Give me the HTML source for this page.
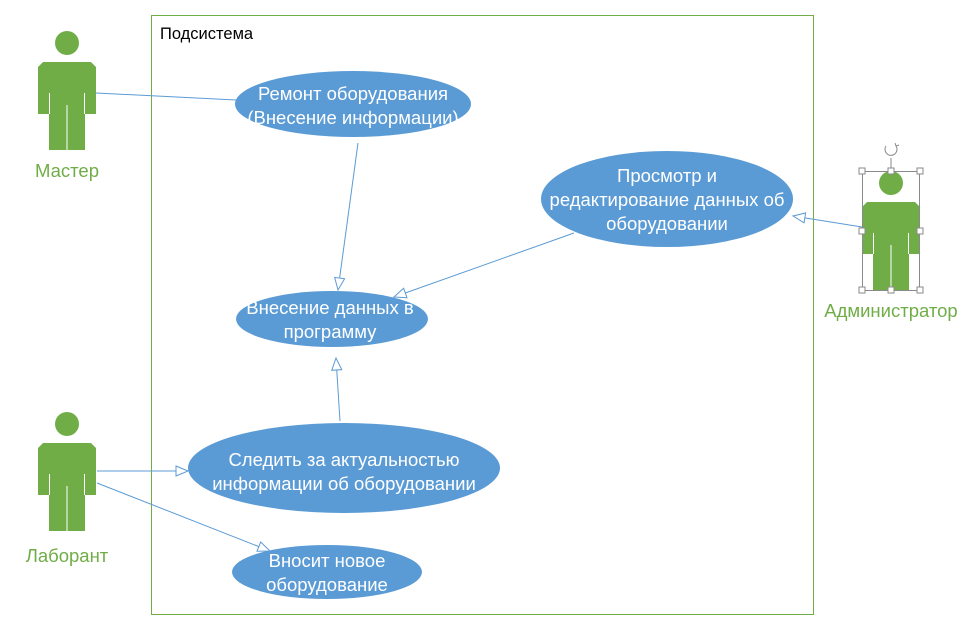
<!DOCTYPE html>
<html><head><meta charset="utf-8"><style>
html,body{margin:0;padding:0;background:#fff;}
svg{display:block;font-family:"Liberation Sans",sans-serif;}
.uc{fill:#5b9bd5;}
.t{fill:#fff;font-size:18.5px;text-anchor:middle;}
.a{fill:#70ad47;font-size:18.5px;text-anchor:middle;}
.l{stroke:#5b9bd5;stroke-width:1;fill:none;}
</style></head><body>
<svg width="964" height="625" viewBox="0 0 964 625">
<defs>
<marker id="ar" viewBox="0 0 14 12" refX="13" refY="6" markerWidth="14" markerHeight="12" markerUnits="userSpaceOnUse" orient="auto">
<path d="M1,1 L13,6 L1,11 Z" fill="#fff" stroke="#5b9bd5" stroke-width="1"/>
</marker>
<g id="act">
<circle cx="0" cy="0" r="12" fill="#70ad47"/>
<polygon points="-24,19 24,19 29,24 29,71 18,71 18,107 -18,107 -18,71 -29,71 -29,24" fill="#70ad47"/>
<line x1="-17.5" y1="50" x2="-17.5" y2="71" stroke="#fff" stroke-width="1"/>
<line x1="17.5" y1="50" x2="17.5" y2="71" stroke="#fff" stroke-width="1"/>
<line x1="0" y1="62" x2="0" y2="107" stroke="#fff" stroke-width="1"/>
</g>
</defs>
<rect x="151.5" y="15.5" width="662" height="599" fill="none" stroke="#70ad47" stroke-width="1"/>
<text x="160" y="39" font-size="16.5" fill="#000">Подсистема</text>

<use href="#act" x="67" y="43"/>
<text class="a" x="67" y="177">Мастер</text>
<use href="#act" x="67" y="424"/>
<text class="a" x="67" y="562">Лаборант</text>
<use href="#act" x="891" y="183"/>
<text class="a" x="891" y="317">Администратор</text>
<g stroke="#8a8a8a" fill="none" stroke-width="1">
<rect x="862.5" y="171.5" width="57" height="119"/>
<line x1="891" y1="158" x2="891" y2="171"/>
<path d="M886,146 A6,6 0 1 0 896,146"/>
<path d="M896,146 l3,-1 M896,146 l-1,-3"/>
</g>
<g fill="#fff" stroke="#8a8a8a" stroke-width="1">
<rect x="859" y="168" width="6" height="6"/><rect x="888" y="168" width="6" height="6"/><rect x="917" y="168" width="6" height="6"/>
<rect x="859" y="228" width="6" height="6"/><rect x="917" y="228" width="6" height="6"/>
<rect x="859" y="287" width="6" height="6"/><rect x="888" y="287" width="6" height="6"/><rect x="917" y="287" width="6" height="6"/>
</g>

<ellipse class="uc" cx="353" cy="104" rx="118" ry="33"/>
<text class="t" x="353" y="100">Ремонт оборудования</text>
<text class="t" x="353" y="124">(Внесение информации)</text>

<ellipse class="uc" cx="667" cy="199" rx="126" ry="48"/>
<text class="t" x="667" y="182">Просмотр и</text>
<text class="t" x="667" y="206">редактирование данных об</text>
<text class="t" x="667" y="230">оборудовании</text>

<ellipse class="uc" cx="332" cy="319" rx="96" ry="28"/>
<text class="t" x="330" y="314">Внесение данных в</text>
<text class="t" x="330" y="338">программу</text>

<ellipse class="uc" cx="344" cy="468" rx="156" ry="45"/>
<text class="t" x="344" y="466">Следить за актуальностью</text>
<text class="t" x="344" y="490">информации об оборудовании</text>

<ellipse class="uc" cx="327" cy="572" rx="95" ry="27"/>
<text class="t" x="327" y="567">Вносит новое</text>
<text class="t" x="327" y="591">оборудование</text>

<line class="l" x1="96" y1="93" x2="236" y2="100"/>
<line class="l" x1="358" y1="143" x2="338" y2="290" marker-end="url(#ar)"/>
<line class="l" x1="574" y1="233" x2="394" y2="297" marker-end="url(#ar)"/>
<line class="l" x1="340" y1="421" x2="336" y2="358" marker-end="url(#ar)"/>
<line class="l" x1="97" y1="471" x2="188" y2="471" marker-end="url(#ar)"/>
<line class="l" x1="97" y1="483" x2="270" y2="551" marker-end="url(#ar)"/>
<line class="l" x1="862" y1="227" x2="793" y2="216" marker-end="url(#ar)"/>
</svg>
</body></html>
